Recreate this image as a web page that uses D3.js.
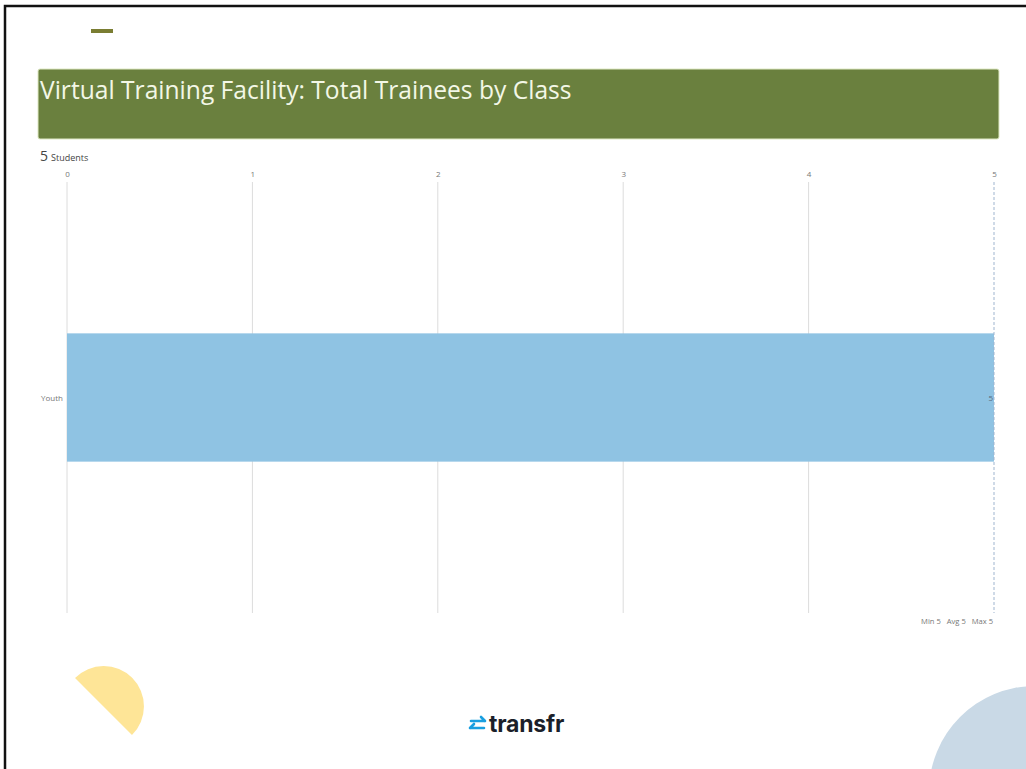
<!DOCTYPE html>
<html>
<head>
<meta charset="utf-8">
<script src="https://cdn.jsdelivr.net/npm/d3@7"></script>
<style>
  html, body { margin: 0; padding: 0; background: #fff; }
  svg { display: block; font-family: "Open Sans", sans-serif; }
</style>
</head>
<body>
<svg id="chart"></svg>
<script>
const title = "Virtual Training Facility: Total Trainees by Class";
const categories = ["Youth"];
const values = [5];
const xTicks = [0, 1, 2, 3, 4, 5];
const unitLabel = "Students";

const W = 1026, H = 769;
const svg = d3.select("#chart").attr("width", W).attr("height", H);

// page frame
svg.append("rect").attr("x", 5).attr("y", 6).attr("width", W + 10).attr("height", H + 10)
    .attr("fill", "none").attr("stroke", "#111").attr("stroke-width", 2.5);

// decorations
svg.append("rect").attr("x", 91).attr("y", 29).attr("width", 22).attr("height", 4).attr("fill", "#7a7d32");

const yellowArc = d3.arc()
    .innerRadius(0).outerRadius(40.3)
    .startAngle(-Math.PI / 4).endAngle(3 * Math.PI / 4);
svg.append("path").attr("transform", "translate(103.5,706.5)")
    .attr("d", yellowArc()).attr("fill", "#fee597");

svg.append("circle").attr("cx", 1035).attr("cy", 792).attr("r", 106).attr("fill", "#c9d9e6");

// header
svg.append("rect").attr("x", 38).attr("y", 69).attr("width", 961).attr("height", 70).attr("rx", 2)
    .attr("fill", "#6a803e").attr("stroke", "#dfe9c4").attr("stroke-width", 1);
svg.append("text").attr("x", 40).attr("y", 99)
    .attr("fill", "#f3f7e6").attr("font-size", 24.6)
    .text(title);

// total
const total = d3.sum(values);
const tot = svg.append("text").attr("x", 40).attr("y", 161).attr("fill", "#444");
tot.append("tspan").attr("font-size", 14).text(total);
tot.append("tspan").attr("font-size", 9).attr("dx", 3).text(unitLabel);

// chart
const x = d3.scaleLinear().domain([0, 5]).range([67, 994]);
const y = d3.scaleBand().domain(categories).range([182, 613]).paddingOuter(1.18).paddingInner(0);

const xAxis = svg.append("g").attr("transform", "translate(0,182)")
    .call(d3.axisTop(x).tickValues(xTicks).tickSize(0).tickPadding(5).tickFormat(d3.format("d")));
xAxis.select(".domain").remove();
xAxis.selectAll("text").attr("font-family", "Open Sans").attr("font-size", 8).attr("fill", "#777");

svg.append("g").selectAll("line").data(xTicks.slice(0, -1)).join("line")
    .attr("x1", d => x(d)).attr("x2", d => x(d))
    .attr("y1", 182).attr("y2", 613)
    .attr("stroke", "#dcdcdc").attr("stroke-width", 1);

svg.append("g").selectAll("rect").data(categories).join("rect")
    .attr("x", x(0)).attr("y", d => y(d))
    .attr("width", (d, i) => x(values[i]) - x(0))
    .attr("height", y.bandwidth())
    .attr("fill", "#8fc3e3");

// max line
svg.append("line").attr("x1", x(d3.max(values))).attr("x2", x(d3.max(values)))
    .attr("y1", 182).attr("y2", 613)
    .attr("stroke", "#9fb5cf").attr("stroke-width", 1).attr("stroke-dasharray", "3,2");

svg.append("g").selectAll("text").data(categories).join("text")
    .attr("x", 63).attr("y", d => y(d) + y.bandwidth() / 2 + 3)
    .attr("text-anchor", "end").attr("font-size", 8).attr("fill", "#777")
    .text(d => d);

svg.append("g").selectAll("text").data(values).join("text")
    .attr("x", d => x(d) - 1).attr("y", (d, i) => y(categories[i]) + y.bandwidth() / 2 + 3)
    .attr("text-anchor", "end").attr("font-size", 8).attr("fill", "#5a6f80")
    .text(d => d);

const stats = `Min ${d3.min(values)}   Avg ${d3.mean(values)}   Max ${d3.max(values)}`;
svg.append("text").attr("x", 993).attr("y", 624).attr("text-anchor", "end")
    .attr("font-size", 7.6).attr("fill", "#777").attr("xml:space", "preserve")
    .style("white-space", "pre").text(stats);

// logo
const logo = svg.append("g").attr("transform", "translate(469,716)");
logo.append("path").attr("d", "M2,5 H16 M12,1 L16,5 M15,12 H1 M5,8 L1,12")
    .attr("fill", "none").attr("stroke", "#1a9fe0").attr("stroke-width", 2.6)
    .attr("stroke-linecap", "round").attr("stroke-linejoin", "round");
svg.append("text").attr("x", 489).attr("y", 732)
    .attr("font-family", "Inter, 'Open Sans', sans-serif").attr("font-weight", 700)
    .attr("font-size", 23).attr("fill", "#1b1f2a").attr("letter-spacing", -0.2)
    .text("transfr");
</script>
</body>
</html>
